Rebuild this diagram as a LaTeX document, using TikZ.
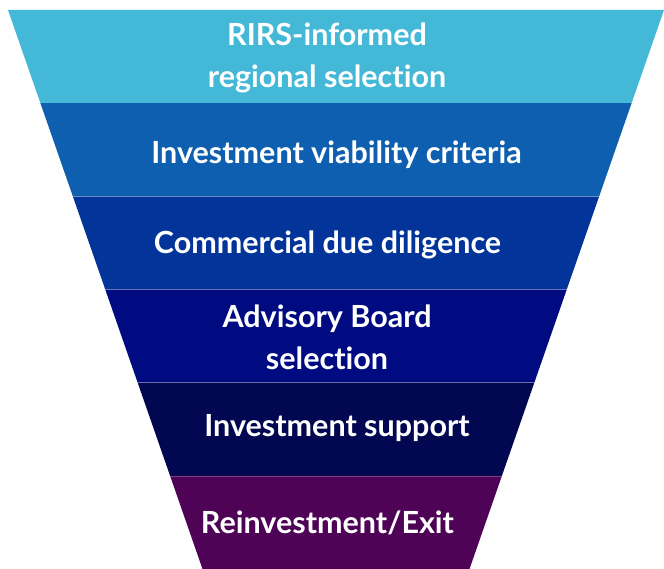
\documentclass[tikz,border=0pt]{standalone}
\usepackage{fontspec}
\setmainfont{Lato}[UprightFont=* Bold, Ligatures=NoCommon]
\usepackage{tikz}
\usetikzlibrary{calc}

\definecolor{stageA}{HTML}{43B8D7}
\definecolor{stageB}{HTML}{0E5FAF}
\definecolor{stageC}{HTML}{023499}
\definecolor{stageD}{HTML}{000B82}
\definecolor{stageE}{HTML}{020751}
\definecolor{stageF}{HTML}{4F0356}

\begin{document}
\begin{tikzpicture}[x=1pt, y=-1pt,
  label/.style={text=white, font=\fontsize{30.5}{42}\selectfont, align=center, inner sep=0pt, anchor=base},
  seam/.style={white, opacity=.25, line width=.6pt}]
\useasboundingbox (0,0) rectangle (664,569);
% funnel corners
\coordinate (tl) at (8,10);
\coordinate (tr) at (664,10);
\coordinate (bl) at (202.5,569);
\coordinate (br) at (469.5,569);
% stage bands, top to bottom
\fill[stageA] (tl) -- (tr) -- ($(tr)!1/6!(br)$) -- ($(tl)!1/6!(bl)$) -- cycle;
\fill[stageB] ($(tl)!1/6!(bl)$) -- ($(tr)!1/6!(br)$) -- ($(tr)!2/6!(br)$) -- ($(tl)!2/6!(bl)$) -- cycle;
\fill[stageC] ($(tl)!2/6!(bl)$) -- ($(tr)!2/6!(br)$) -- ($(tr)!3/6!(br)$) -- ($(tl)!3/6!(bl)$) -- cycle;
\fill[stageD] ($(tl)!3/6!(bl)$) -- ($(tr)!3/6!(br)$) -- ($(tr)!4/6!(br)$) -- ($(tl)!4/6!(bl)$) -- cycle;
\fill[stageE] ($(tl)!4/6!(bl)$) -- ($(tr)!4/6!(br)$) -- ($(tr)!5/6!(br)$) -- ($(tl)!5/6!(bl)$) -- cycle;
\fill[stageF] ($(tl)!5/6!(bl)$) -- ($(tr)!5/6!(br)$) -- (br) -- (bl) -- cycle;
\draw[seam] ($(tl)!2/6!(bl)$) -- ($(tr)!2/6!(br)$);
\draw[seam] ($(tl)!3/6!(bl)$) -- ($(tr)!3/6!(br)$);
\draw[seam] ($(tl)!4/6!(bl)$) -- ($(tr)!4/6!(br)$);
\draw[seam] ($(tl)!5/6!(bl)$) -- ($(tr)!5/6!(br)$);
% stage labels (base = last line)
\node[label] (rirs) at (327,88) {RIRS-informed\\regional selection};
\node[label] (viab) at (336.5,163.5) {Investment viability criteria};
\node[label] (comm) at (327.5,253.3) {Commercial due diligence};
\node[label] (board) at (327,369) {Advisory Board\\selection};
\node[label] (supp) at (337,436) {Investment support};
\node[label] (exit) at (327.5,533.3) {Reinvestment/Exit};
\end{tikzpicture}
\end{document}
